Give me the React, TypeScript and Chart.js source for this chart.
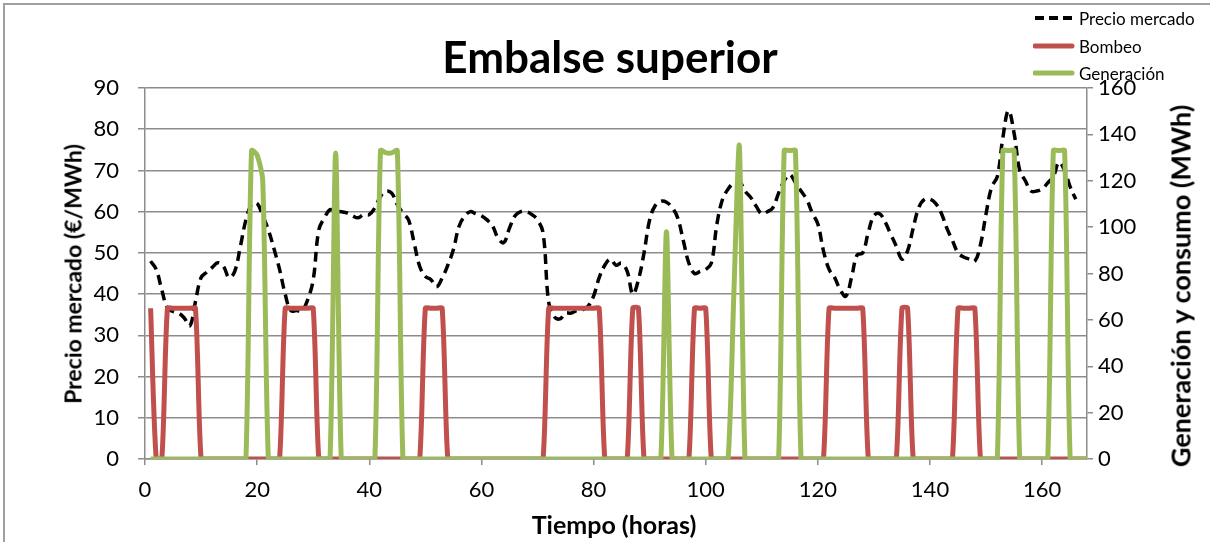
import React, { useEffect, useRef } from "react";
import { Chart, registerables } from "chart.js";

Chart.register(...registerables);

// Hours 1..168 (x values)
const hours: number[] = [
  1, 2, 3, 4, 5, 6, 7, 8, 9, 10, 11, 12, 13, 14, 15, 16, 17, 18, 19, 20,
  21, 22, 23, 24, 25, 26, 27, 28, 29, 30, 31, 32, 33, 34, 35, 36, 37, 38, 39, 40,
  41, 42, 43, 44, 45, 46, 47, 48, 49, 50, 51, 52, 53, 54, 55, 56, 57, 58, 59, 60,
  61, 62, 63, 64, 65, 66, 67, 68, 69, 70, 71, 72, 73, 74, 75, 76, 77, 78, 79, 80,
  81, 82, 83, 84, 85, 86, 87, 88, 89, 90, 91, 92, 93, 94, 95, 96, 97, 98, 99, 100,
  101, 102, 103, 104, 105, 106, 107, 108, 109, 110, 111, 112, 113, 114, 115, 116, 117, 118, 119, 120,
  121, 122, 123, 124, 125, 126, 127, 128, 129, 130, 131, 132, 133, 134, 135, 136, 137, 138, 139, 140,
  141, 142, 143, 144, 145, 146, 147, 148, 149, 150, 151, 152, 153, 154, 155, 156, 157, 158, 159, 160,
  161, 162, 163, 164, 165, 166, 167, 168,
];

// Precio mercado (€/MWh), hours 1..166
const precioMercado: number[] = [
  48, 46, 41, 36.6, 35.8, 35.4, 34.2, 32.3, 38.2, 44,
  45.3, 46.5, 47.6, 46.7, 44, 45.5, 51.5, 58, 61.7, 62,
  59, 55.6, 51, 46, 40, 36, 36, 36, 38.6, 43.5,
  55.6, 58.5, 60.5, 60, 60, 59.7, 59, 58.5, 59.3, 59.3,
  61, 63.7, 65, 64.5, 61.7, 59.7, 58, 52.4, 46.7, 44.3,
  43.5, 41.8, 43.9, 47, 50.8, 56.4, 58.9, 60, 59.5, 59,
  58, 56.5, 53.5, 52.5, 56, 59, 60, 60, 59.3, 58,
  54.8, 38, 34.5, 34, 35.4, 35.4, 36, 36.2, 37, 39.5,
  44, 47, 48.5, 47, 47.5, 45.5, 40, 43.5, 50, 58,
  61.5, 62.5, 62.3, 61, 58.5, 53, 47.5, 45, 45.5, 46,
  47.5, 57, 63, 65.5, 67, 67.4, 65, 63.5, 61.3, 59.5,
  60, 61, 64.5, 67.5, 69, 67, 65, 63, 59.7, 57,
  50.5, 46, 44, 41, 39.5, 44, 49.5, 50, 55, 59,
  59.5, 57.5, 54.5, 51.6, 48.5, 50.5, 56, 61, 63, 63,
  62, 59.7, 56, 53, 50, 49, 48.5, 48, 52, 59.5,
  66, 68.5, 78, 84.5, 79, 70, 67.5, 65, 65, 65.5,
  67, 68.5, 72, 70, 66, 63,
];

// Bombeo (MWh), hours 1..168
const bombeo: number[] = [
  65, 0, 0, 65, 65, 65, 65, 65, 65, 0,
  0, 0, 0, 0, 0, 0, 0, 0, 0, 0,
  0, 0, 0, 0, 65, 65, 65, 65, 65, 65,
  0, 0, 0, 0, 0, 0, 0, 0, 0, 0,
  0, 0, 0, 0, 0, 0, 0, 0, 0, 65,
  65, 65, 65, 0, 0, 0, 0, 0, 0, 0,
  0, 0, 0, 0, 0, 0, 0, 0, 0, 0,
  0, 65, 65, 65, 65, 65, 65, 65, 65, 65,
  65, 0, 0, 0, 0, 0, 65, 65, 0, 0,
  0, 0, 0, 0, 0, 0, 0, 65, 65, 65,
  0, 0, 0, 0, 0, 0, 0, 0, 0, 0,
  0, 0, 0, 0, 0, 0, 0, 0, 0, 0,
  0, 65, 65, 65, 65, 65, 65, 65, 0, 0,
  0, 0, 0, 0, 65, 65, 0, 0, 0, 0,
  0, 0, 0, 0, 65, 65, 65, 65, 0, 0,
  0, 0, 0, 0, 0, 0, 0, 0, 0, 0,
  0, 0, 0, 0, 0, 0, 0, 0,
];

// Generación (MWh), hours 1..168
const generacion: number[] = [
  0, 0, 0, 0, 0, 0, 0, 0, 0, 0,
  0, 0, 0, 0, 0, 0, 0, 0, 133, 131,
  120, 0, 0, 0, 0, 0, 0, 0, 0, 0,
  0, 0, 0, 132, 0, 0, 0, 0, 0, 0,
  0, 133, 132, 132, 133, 0, 0, 0, 0, 0,
  0, 0, 0, 0, 0, 0, 0, 0, 0, 0,
  0, 0, 0, 0, 0, 0, 0, 0, 0, 0,
  0, 0, 0, 0, 0, 0, 0, 0, 0, 0,
  0, 0, 0, 0, 0, 0, 0, 0, 0, 0,
  0, 0, 98, 0, 0, 0, 0, 0, 0, 0,
  0, 0, 0, 0, 70, 135, 0, 0, 0, 0,
  0, 0, 0, 133, 133, 133, 0, 0, 0, 0,
  0, 0, 0, 0, 0, 0, 0, 0, 0, 0,
  0, 0, 0, 0, 0, 0, 0, 0, 0, 0,
  0, 0, 0, 0, 0, 0, 0, 0, 0, 0,
  0, 0, 133, 133, 133, 0, 0, 0, 0, 0,
  0, 133, 133, 133, 0, 0, 0, 0,
];

const xTicks: number[] = [0, 20, 40, 60, 80, 100, 120, 140, 160];
const leftTicks: number[] = [0, 10, 20, 30, 40, 50, 60, 70, 80, 90];
const rightTicks: number[] = [0, 20, 40, 60, 80, 100, 120, 140, 160];

const FONT = "Lato, 'Open Sans', sans-serif";
const GRID = "#8c8c8c";
const RED = "#C0504D";
const GREEN = "#9BBB59";

function toPoints(vals: number[]) {
  return vals.map((v, i) => ({ x: hours[i], y: v }));
}

function ChartCanvas() {
  const ref = useRef<HTMLCanvasElement | null>(null);
  useEffect(() => {
    if (!ref.current) return;
    const tickFont = { family: FONT, size: 22 };
    const chart = new Chart(ref.current, {
      type: "line",
      data: {
        datasets: [
          {
            label: "Generación",
            data: toPoints(generacion),
            yAxisID: "y2",
            borderColor: GREEN,
            backgroundColor: GREEN,
            borderWidth: 5,
            pointRadius: 0,
            tension: 0.25,
            order: 0,
          },
          {
            label: "Bombeo",
            data: toPoints(bombeo),
            yAxisID: "y2",
            borderColor: RED,
            backgroundColor: RED,
            borderWidth: 5,
            pointRadius: 0,
            tension: 0.25,
            order: 1,
          },
          {
            label: "Precio mercado",
            data: toPoints(precioMercado),
            yAxisID: "y",
            borderColor: "#000000",
            backgroundColor: "#000000",
            borderWidth: 3.5,
            borderDash: [10, 6],
            pointRadius: 0,
            tension: 0.4,
            order: 2,
          },
        ],
      },
      options: {
        animation: false,
        responsive: false,
        maintainAspectRatio: false,
        layout: { padding: { top: 88, left: 0, right: 0, bottom: 0 } },
        plugins: {
          legend: { display: false },
          tooltip: { enabled: false },
          title: { display: false },
        },
        scales: {
          x: {
            type: "linear",
            min: 0,
            max: 168,
            afterFit: (s: any) => {
              s.height = 83;
            },
            afterBuildTicks: (s: any) => {
              s.ticks = xTicks.map((v) => ({ value: v }));
            },
            ticks: { font: tickFont, color: "#000", padding: 12, maxRotation: 0 },
            grid: { drawOnChartArea: false, drawTicks: true, tickLength: 6, color: GRID, lineWidth: 1.5 },
            border: { display: true, color: GRID, width: 1.5 },
          },
          y: {
            position: "left",
            min: 0,
            max: 90,
            afterFit: (s: any) => {
              s.width = 145;
            },
            afterBuildTicks: (s: any) => {
              s.ticks = leftTicks.map((v) => ({ value: v }));
            },
            ticks: { font: tickFont, color: "#000", padding: 19 },
            grid: { color: GRID, lineWidth: 1.5, tickLength: 7 },
            border: { display: true, color: GRID, width: 1.5 },
          },
          y2: {
            position: "right",
            min: 0,
            max: 160,
            afterFit: (s: any) => {
              s.width = 123;
            },
            afterBuildTicks: (s: any) => {
              s.ticks = rightTicks.map((v) => ({ value: v }));
            },
            ticks: { font: tickFont, color: "#000", padding: 5 },
            grid: { drawOnChartArea: false, color: GRID, lineWidth: 1.5, tickLength: 6 },
            border: { display: true, color: GRID, width: 1.5 },
          },
        },
      },
    } as any);
    return () => chart.destroy();
  }, []);
  return (
    <canvas
      ref={ref}
      width={1210}
      height={542}
      style={{ position: "absolute", left: 0, top: 0, width: 1210, height: 542 }}
    />
  );
}

function LegendRow(props: { y: number; label: string; color: string; dashed?: boolean }) {
  const { y, label, color, dashed } = props;
  return (
    <div style={{ position: "absolute", left: 1033, top: y - 12, height: 24, display: "flex", alignItems: "center" }}>
      <svg width={42} height={24} style={{ display: "block" }}>
        <line
          x1={2}
          y1={12}
          x2={39}
          y2={12}
          stroke={color}
          strokeWidth={dashed ? 4 : 5}
          strokeDasharray={dashed ? "9 5" : undefined}
          strokeLinecap={dashed ? "butt" : "round"}
        />
      </svg>
      <span style={{ marginLeft: 4, fontFamily: FONT, fontSize: 17, color: "#000", whiteSpace: "nowrap" }}>{label}</span>
    </div>
  );
}

function RotatedTitle(props: { x: number; y: number; size: number; text: string }) {
  return (
    <div
      style={{
        position: "absolute",
        left: props.x,
        top: props.y,
        transform: "translate(-50%, -50%) rotate(-90deg)",
        fontFamily: FONT,
        fontWeight: 700,
        fontSize: props.size,
        lineHeight: 1,
        whiteSpace: "nowrap",
        color: "#000",
      }}
    >
      {props.text}
    </div>
  );
}

export default function App() {
  useEffect(() => {
    document.body.style.margin = "0";
  }, []);
  return (
    <div style={{ position: "relative", width: 1210, height: 542, overflow: "hidden", background: "#fff" }}>
      <div
        style={{
          position: "absolute",
          left: 3,
          top: 3,
          width: 1400,
          height: 700,
          borderTop: "2px solid #a0a0a0",
          borderLeft: "2px solid #a0a0a0",
        }}
      />
      <ChartCanvas />
      <div
        style={{
          position: "absolute",
          left: 610,
          top: 56,
          transform: "translate(-50%, -50%)",
          fontFamily: FONT,
          fontWeight: 700,
          fontSize: 44,
          lineHeight: 1,
          whiteSpace: "nowrap",
          color: "#000",
        }}
      >
        Embalse superior
      </div>
      <LegendRow y={18} label="Precio mercado" color="#000" dashed />
      <LegendRow y={46} label="Bombeo" color={RED} />
      <LegendRow y={73} label="Generación" color={GREEN} />
      <RotatedTitle x={73} y={274} size={23} text="Precio mercado (€/MWh)" />
      <RotatedTitle x={1180} y={286} size={27} text="Generación y consumo (MWh)" />
      <div
        style={{
          position: "absolute",
          left: 614,
          top: 524,
          transform: "translate(-50%, -50%)",
          fontFamily: FONT,
          fontWeight: 700,
          fontSize: 25,
          lineHeight: 1,
          whiteSpace: "nowrap",
          color: "#000",
        }}
      >
        Tiempo (horas)
      </div>
    </div>
  );
}
